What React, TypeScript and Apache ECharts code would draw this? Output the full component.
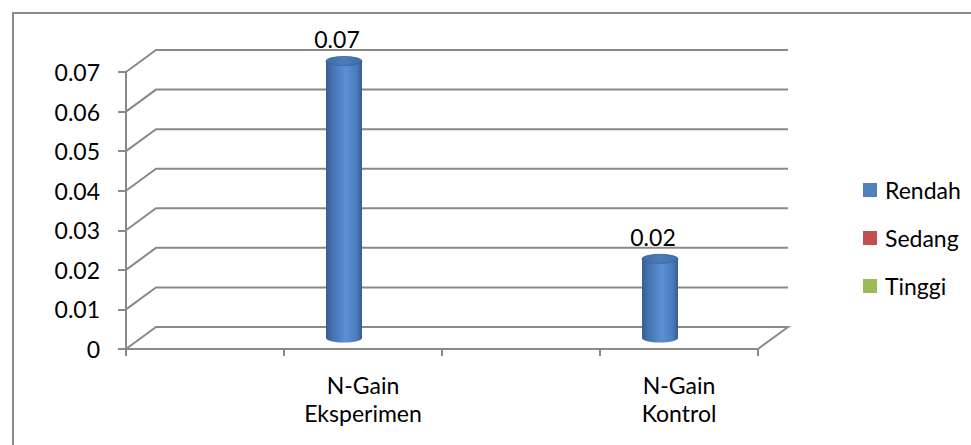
import React, { useEffect, useRef } from "react";
import * as echarts from "echarts";

const categories = ["N-Gain Eksperimen", "N-Gain Kontrol"];
const seriesNames = ["Rendah", "Sedang", "Tinggi"];
const rendah = [0.07, 0.02];
const sedang = [0, 0];
const tinggi = [0, 0];
const yTicks = [0, 0.01, 0.02, 0.03, 0.04, 0.05, 0.06, 0.07];
const seriesColors = ["#4F81BD", "#C0504D", "#9BBB59"];

const FONT = "Lato";
const GRID_COLOR = "#898989";
const DEPTH_X = 30;
const DEPTH_Y = -22;

export default function App() {
  const ref = useRef<HTMLDivElement>(null);

  useEffect(() => {
    if (!ref.current) return;
    const chart = echarts.init(ref.current, undefined, { renderer: "svg" });

    const axisData = categories.flatMap((c) => ["", c]);
    const seriesValues = [rendah, sedang, tinggi];

    const bodyGradient = () =>
      new echarts.graphic.LinearGradient(0, 0, 1, 0, [
        { offset: 0, color: "#375e94" },
        { offset: 0.18, color: "#4672b0" },
        { offset: 0.55, color: "#5b8fd4" },
        { offset: 0.85, color: "#4a7bbd" },
        { offset: 1, color: "#355c91" },
      ]);

    const cylinderRenderer = (offset: number) => (params: any, api: any) => {
      const idx = api.value(0);
      const v = api.value(1);
      if (!(v > 0)) return { type: "group", children: [] };
      const base = api.coord([idx, 0]);
      const top = api.coord([idx, v]);
      const cx = base[0] + DEPTH_X / 2 + offset;
      const yb = base[1] + DEPTH_Y / 2;
      const yt = top[1] + DEPTH_Y / 2;
      const rx = 18;
      const ry = 4.5;
      return {
        type: "group",
        children: [
          {
            type: "ellipse",
            shape: { cx, cy: yb, rx, ry },
            style: { fill: bodyGradient() },
          },
          {
            type: "rect",
            shape: { x: cx - rx, y: yt, width: rx * 2, height: yb - yt },
            style: { fill: bodyGradient() },
          },
          {
            type: "ellipse",
            shape: { cx, cy: yt, rx, ry },
            style: {
              fill: new echarts.graphic.LinearGradient(0, 0, 1, 0, [
                { offset: 0, color: "#3f6aa5" },
                { offset: 0.5, color: "#4d7cbd" },
                { offset: 1, color: "#3f6aa5" },
              ]),
              stroke: "#3a639c",
              lineWidth: 0.8,
            },
          },
          {
            type: "text",
            x: cx - 7,
            y: yt - 22,
            style: {
              text: String(v),
              fontSize: 23,
              fontFamily: FONT,
              fill: "#000",
              align: "center",
              verticalAlign: "middle",
            },
          },
        ],
      };
    };

    const frameRenderer = (params: any, api: any) => {
      const cs = params.coordSys;
      const v = api.value(1);
      const y = api.coord([0, v])[1];
      const x0 = cs.x;
      const x1 = cs.x + cs.width;
      const pts =
        v === 0
          ? [
              [x0, y],
              [x0 + DEPTH_X, y + DEPTH_Y],
              [x1 + DEPTH_X, y + DEPTH_Y],
              [x1, y],
            ]
          : [
              [x0, y],
              [x0 + DEPTH_X, y + DEPTH_Y],
              [x1 + DEPTH_X, y + DEPTH_Y],
            ];
      return {
        type: "polyline",
        shape: { points: pts },
        style: { stroke: GRID_COLOR, lineWidth: 2, fill: "none" },
      };
    };

    const option: any = {
      animation: false,
      backgroundColor: "#ffffff",
      graphic: [
        {
          type: "rect",
          shape: { x: 13, y: 13, width: 1100, height: 600 },
          style: { fill: "none", stroke: "#8a8a8a", lineWidth: 2 },
          silent: true,
        },
      ],
      legend: {
        data: seriesNames,
        orient: "vertical",
        left: 858,
        top: 173,
        itemWidth: 14,
        itemHeight: 14,
        itemGap: 24,
        icon: "rect",
        textStyle: {
          fontSize: 23,
          fontFamily: FONT,
          color: "#000",
          lineHeight: 24,
          padding: [0, 0, 0, 3],
        },
      },
      grid: { left: 126, top: 72, width: 632, height: 277 },
      xAxis: {
        type: "category",
        data: axisData,
        boundaryGap: true,
        axisLine: { show: true, lineStyle: { color: GRID_COLOR, width: 2 } },
        axisTick: {
          show: true,
          interval: 0,
          length: 7,
          lineStyle: { color: GRID_COLOR, width: 2 },
        },
        axisLabel: {
          interval: 0,
          margin: 22,
          fontSize: 23,
          fontFamily: FONT,
          color: "#000",
          lineHeight: 28,
          formatter: (s: string) => s.replace(" ", "\n"),
        },
        splitLine: { show: false },
      },
      yAxis: {
        type: "value",
        min: 0,
        max: 0.07,
        interval: 0.01,
        axisLine: { show: true, lineStyle: { color: GRID_COLOR, width: 2 } },
        axisTick: { show: true, length: 8, lineStyle: { color: GRID_COLOR, width: 2 } },
        axisLabel: {
          margin: 26,
          fontSize: 23,
          fontFamily: FONT,
          color: "#000",
          formatter: (v: number) => (v === 0 ? "0" : v.toFixed(2)),
        },
        splitLine: { show: false },
      },
      series: [
        {
          name: "frame",
          type: "custom",
          silent: true,
          z: 1,
          renderItem: frameRenderer,
          encode: { x: 0, y: 1 },
          data: yTicks.map((v) => [0, v]),
        },
        ...seriesNames.map((name, si) => ({
          name,
          type: "custom",
          z: 3,
          itemStyle: { color: seriesColors[si] },
          renderItem: cylinderRenderer(-34 + si * 38),
          encode: { x: 0, y: 1 },
          data: seriesValues[si].map((v, i) => [2 * i + 1, v]),
        })),
      ],
    };

    chart.setOption(option);
    return () => chart.dispose();
  }, []);

  return (
    <div
      ref={ref}
      style={{ position: "fixed", left: 0, top: 0, width: 971, height: 445 }}
    />
  );
}
